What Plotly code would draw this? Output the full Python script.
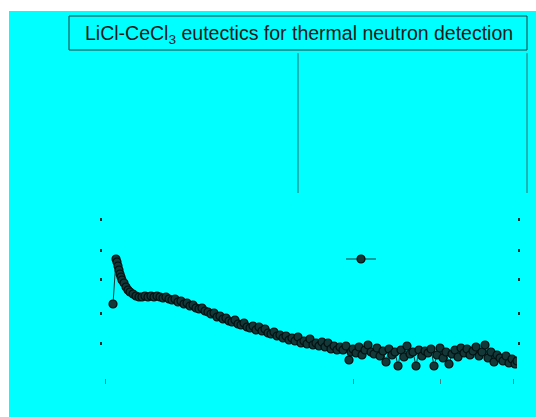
import plotly.graph_objects as go

# time axis (channel units) and signal values
t = [5, 8, 9, 10, 11, 12, 13, 14, 16, 18, 20, 22, 25, 28, 31, 34, 37, 40, 43, 46, 49, 52, 55, 58,
     61, 64, 67, 70, 73, 76, 79, 82, 85, 88, 91, 94, 97, 100, 103, 106, 109, 112, 115, 118, 121,
     124, 127, 130, 133, 136, 139, 142, 145, 148, 151, 154, 157, 160, 163, 166, 169, 172, 175, 178,
     181, 184, 187, 190, 193, 196, 199, 202, 205, 208, 211, 214, 217, 220, 223, 226, 229, 232, 235,
     238, 241, 243, 245, 248, 251, 254, 257, 260, 263, 266, 269, 272, 275, 278, 281, 284, 287, 290,
     293, 296, 299, 302, 305, 308, 311, 314, 317, 320, 323, 326, 329, 332, 335, 338, 341, 344, 347,
     350, 353, 356, 359, 362, 365, 368, 371, 374, 377, 380, 383, 386, 389, 392, 395, 398, 401, 404,
     407, 409]
signal = [74, 119, 116, 112, 108, 104, 101, 98, 95, 91, 88, 86, 84, 82, 81, 81, 82, 81, 82, 81, 82,
          81, 80, 81, 79, 78, 79, 76, 77, 74, 75, 72, 73, 70, 69, 70, 67, 66, 64, 65, 61, 62, 59, 60,
          57, 56, 58, 54, 53, 55, 51, 50, 52, 48, 51, 47, 49, 45, 44, 46, 42, 43, 40, 42, 38, 40, 37,
          41, 35, 37, 34, 39, 33, 35, 32, 36, 31, 35, 29, 32, 28, 31, 28, 32, 18, 26, 29, 25, 31, 23,
          28, 33, 26, 24, 30, 22, 27, 16, 29, 23, 26, 12, 28, 21, 32, 24, 26, 12, 28, 22, 27, 25, 29,
          12, 23, 30, 20, 26, 14, 24, 28, 21, 30, 25, 29, 23, 27, 31, 22, 26, 33, 20, 26, 16, 23, 20,
          17, 22, 15, 19, 14, 17]

ytick_vals = [35, 65, 99, 128, 159]
xtick_vals = [-3, 245, 332, 405]
title_text = "LiCl-CeCl<sub>3</sub> eutectics for thermal neutron detection"

CYAN = "#00FFFF"
DARK = "#0f2f2f"

fig = go.Figure()
fig.add_trace(go.Scatter(
    x=t, y=signal, mode="lines+markers", name=" ",
    line=dict(color="#163a3a", width=1),
    marker=dict(size=8, color="#143838", line=dict(color="#041010", width=1.2)),
    showlegend=True,
))

L, R, T, B = 103, 19, 205, 39
W, H = 536, 417
pw, ph = W - L - R, H - T - B


def px(xp):
    return (xp - L) / pw


def py(yp):
    return (H - B - yp) / ph


shapes = [
    # white scan margins
    dict(type="rect", xref="paper", yref="paper", x0=px(0), x1=px(W), y0=py(11), y1=py(0),
         fillcolor="white", line=dict(width=0), layer="above"),
    dict(type="rect", xref="paper", yref="paper", x0=px(0), x1=px(9), y0=py(H), y1=py(0),
         fillcolor="white", line=dict(width=0), layer="above"),
    # vertical guide lines under the title box
    dict(type="line", xref="paper", yref="paper", x0=px(298), x1=px(298), y0=py(53), y1=py(193),
         line=dict(color="#3a6a6a", width=1)),
    dict(type="line", xref="paper", yref="paper", x0=px(527), x1=px(527), y0=py(53), y1=py(193),
         line=dict(color="#3a6a6a", width=1)),
    # title box
    dict(type="rect", xref="paper", yref="paper", x0=px(69), x1=px(527), y0=py(50), y1=py(16),
         line=dict(color="#2a3a3a", width=1), fillcolor="rgba(0,0,0,0)"),
]

fig.update_layout(
    width=W, height=H,
    margin=dict(l=L, r=R, t=T, b=B),
    paper_bgcolor=CYAN, plot_bgcolor=CYAN,
    shapes=shapes,
    annotations=[dict(text=title_text, xref="paper", yref="paper", x=px(299), y=py(34),
                      xanchor="center", yanchor="middle", showarrow=False,
                      font=dict(family="Liberation Sans, Arial", size=19.5, color="#1a1a1a"))],
    xaxis=dict(range=[-5, 409], showgrid=False, zeroline=False, showline=False,
               tickvals=xtick_vals, ticks="outside", ticklen=5, tickwidth=1,
               tickcolor="#4a8080", showticklabels=False),
    yaxis=dict(range=[0, 173], showgrid=False, zeroline=False, showline=False,
               tickvals=ytick_vals, ticks="outside", ticklen=2, tickwidth=3,
               tickcolor=DARK, showticklabels=False, mirror="ticks"),
    legend=dict(x=px(341), y=py(259), xanchor="left", yanchor="middle",
                bgcolor="rgba(0,0,0,0)", borderwidth=0,
                font=dict(size=10, color=CYAN)),
    showlegend=True,
)

fig.write_html("out.html")
